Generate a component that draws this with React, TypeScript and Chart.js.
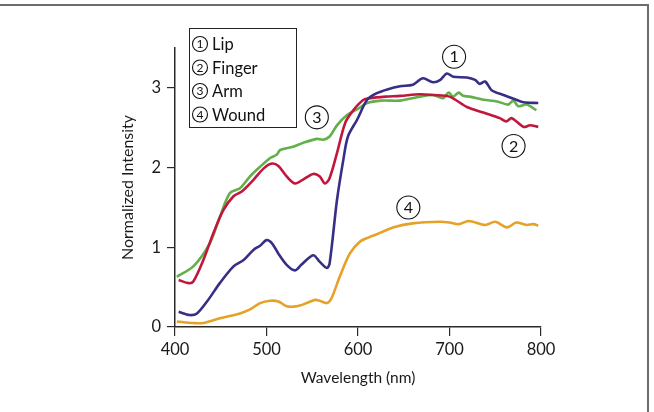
import React, { useEffect, useRef } from "react";
import { Chart, registerables } from "chart.js";

Chart.register(...registerables);

const seriesNames = ["Lip", "Finger", "Arm", "Wound"];
const seriesMarks = ["1", "2", "3", "4"];
const seriesColors = ["#372f86", "#c0173c", "#62b04a", "#e6a127"];

const lipNm = [404, 416, 424, 435, 449, 464, 475, 486, 493, 500, 506, 513, 522, 531, 538, 551, 558, 566, 569, 577, 584, 589, 599, 610, 620, 632, 646, 660, 671, 682, 690, 697, 704, 719, 728, 733, 739, 746, 759, 773, 781, 797];
const lipVal = [0.19, 0.15, 0.17, 0.32, 0.55, 0.76, 0.84, 0.97, 1.02, 1.09, 1.05, 0.92, 0.78, 0.71, 0.78, 0.9, 0.82, 0.74, 0.8, 1.59, 2.1, 2.39, 2.6, 2.85, 2.93, 2.98, 3.02, 3.04, 3.12, 3.07, 3.1, 3.18, 3.14, 3.13, 3.1, 3.05, 3.08, 2.97, 2.91, 2.85, 2.82, 2.81];

const fingerNm = [404, 415, 420, 431, 442, 453, 464, 473, 486, 497, 506, 513, 522, 531, 540, 551, 558, 564, 569, 577, 586, 595, 606, 613, 630, 646, 668, 682, 700, 719, 737, 755, 762, 768, 781, 788, 797];
const fingerVal = [0.59, 0.55, 0.57, 0.84, 1.18, 1.47, 1.64, 1.7, 1.85, 1.99, 2.05, 2.02, 1.89, 1.8, 1.85, 1.92, 1.89, 1.8, 1.87, 2.18, 2.56, 2.72, 2.85, 2.87, 2.89, 2.9, 2.92, 2.91, 2.89, 2.76, 2.69, 2.62, 2.58, 2.62, 2.51, 2.53, 2.51];

const armNm = [402, 420, 438, 449, 460, 471, 482, 493, 504, 511, 515, 529, 540, 555, 562, 569, 577, 588, 599, 610, 625, 646, 668, 682, 693, 699, 704, 710, 715, 722, 737, 752, 764, 770, 775, 784, 795];
const armVal = [0.63, 0.76, 1.05, 1.38, 1.68, 1.74, 1.89, 2.01, 2.12, 2.16, 2.22, 2.26, 2.31, 2.36, 2.35, 2.39, 2.53, 2.66, 2.73, 2.81, 2.84, 2.84, 2.89, 2.91, 2.87, 2.94, 2.89, 2.94, 2.9, 2.89, 2.85, 2.83, 2.79, 2.84, 2.77, 2.79, 2.72];

const woundNm = [402, 420, 431, 449, 471, 482, 493, 504, 513, 522, 533, 544, 553, 558, 566, 571, 580, 591, 602, 613, 620, 639, 660, 690, 700, 710, 721, 739, 750, 763, 773, 784, 792, 797];
const woundVal = [0.07, 0.05, 0.05, 0.11, 0.17, 0.22, 0.3, 0.33, 0.32, 0.26, 0.26, 0.3, 0.34, 0.33, 0.3, 0.36, 0.63, 0.92, 1.07, 1.13, 1.16, 1.25, 1.3, 1.32, 1.31, 1.29, 1.33, 1.28, 1.32, 1.25, 1.31, 1.28, 1.29, 1.27];

const xTicks = [400, 500, 600, 700, 800];
const yTicks = [0, 1, 2, 3];

// curve callouts (circled numbers), in data coordinates
const calloutNm = [705, 770, 555, 655];
const calloutVal = [3.39, 2.27, 2.63, 1.5];

const FONT = "Lato, 'Noto Sans', 'DejaVu Sans', sans-serif";

function drawCircled(ctx: CanvasRenderingContext2D, cx: number, cy: number, r: number, t: string, size: number) {
  ctx.beginPath();
  ctx.arc(cx, cy, r, 0, Math.PI * 2);
  ctx.lineWidth = 1.1;
  ctx.strokeStyle = "#111";
  ctx.stroke();
  ctx.fillStyle = "#111";
  ctx.font = `${size}px ${FONT}`;
  ctx.textAlign = "center";
  ctx.textBaseline = "middle";
  ctx.fillText(t, cx, cy + 0.5);
}

export default function App() {
  const ref = useRef<HTMLCanvasElement>(null);

  useEffect(() => {
    const toPts = (xs: number[], ys: number[]) => xs.map((x, i) => ({ x, y: ys[i] }));
    const all = [
      toPts(lipNm, lipVal),
      toPts(fingerNm, fingerVal),
      toPts(armNm, armVal),
      toPts(woundNm, woundVal),
    ];

    const overlay = {
      id: "overlay",
      afterDraw(chart: any) {
        const ctx: CanvasRenderingContext2D = chart.ctx;
        const xs = chart.scales.x;
        const ys = chart.scales.y;
        ctx.save();
        // outer partial frame
        ctx.strokeStyle = "#6c6c6c";
        ctx.lineWidth = 2;
        ctx.beginPath();
        ctx.moveTo(0, 5);
        ctx.lineTo(648, 5);
        ctx.lineTo(648, 412);
        ctx.stroke();
        // legend box
        ctx.strokeStyle = "#222";
        ctx.lineWidth = 1;
        ctx.strokeRect(189.5, 28.5, 107, 99);
        seriesNames.forEach((name, i) => {
          const cy = 44 + i * 23.5;
          drawCircled(ctx, 200, cy, 7.5, seriesMarks[i], 12);
          ctx.font = `16.5px ${FONT}`;
          ctx.textAlign = "left";
          ctx.textBaseline = "middle";
          ctx.fillStyle = "#111";
          ctx.fillText(name, 212, cy + 1);
        });
        // callouts
        calloutNm.forEach((nm, i) => {
          drawCircled(ctx, xs.getPixelForValue(nm), ys.getPixelForValue(calloutVal[i]), 11.5, seriesMarks[i], 16);
        });
        ctx.restore();
      },
    };

    const axisColor = "#2a2a2a";
    const chart = new Chart(ref.current as HTMLCanvasElement, {
      type: "line",
      data: {
        datasets: all.map((pts, i) => ({
          label: seriesNames[i],
          data: pts,
          borderColor: seriesColors[i],
          backgroundColor: seriesColors[i],
          borderWidth: 2.6,
          pointRadius: 0,
          tension: 0.3,
          fill: false,
        })),
      },
      options: {
        responsive: false,
        animation: false,
        layout: { padding: { left: 0, right: 113, top: 48, bottom: 0 } },
        plugins: { legend: { display: false }, tooltip: { enabled: false } },
        scales: {
          x: {
            type: "linear",
            min: 400,
            max: 800,
            afterBuildTicks: (s: any) => {
              s.ticks = xTicks.map((v) => ({ value: v }));
            },
            afterFit: (s: any) => {
              s.height = 85;
            },
            ticks: { font: { family: FONT, size: 16.5 }, color: "#1a1a1a", padding: 4, maxRotation: 0 },
            grid: { display: true, drawOnChartArea: false, drawTicks: true, tickLength: 9, color: axisColor, lineWidth: 1.2 },
            border: { display: true, color: axisColor, width: 1.5 },
            title: {
              display: true,
              text: "Wavelength (nm)",
              font: { family: FONT, size: 15.5 },
              color: "#1a1a1a",
              padding: { top: 0, bottom: 25 },
            },
          },
          y: {
            type: "linear",
            min: 0,
            max: 3.5,
            afterBuildTicks: (s: any) => {
              s.ticks = yTicks.map((v) => ({ value: v }));
            },
            afterFit: (s: any) => {
              s.width = 175;
            },
            ticks: { font: { family: FONT, size: 16.5 }, color: "#1a1a1a", padding: 6 },
            grid: { display: true, drawOnChartArea: false, drawTicks: true, tickLength: 8, color: axisColor, lineWidth: 1.2 },
            border: { display: true, color: axisColor, width: 1.5 },
            title: {
              display: true,
              text: "Normalized Intensity",
              font: { family: FONT, size: 16 },
              color: "#1a1a1a",
              padding: { top: 118, bottom: 0 },
            },
          },
        },
      },
      plugins: [overlay],
    } as any);

    return () => chart.destroy();
  }, []);

  return (
    <div style={{ position: "absolute", left: 0, top: 0, width: 654, height: 412, background: "#fff" }}>
      <canvas ref={ref} width={654} height={412} style={{ display: "block" }} />
    </div>
  );
}
